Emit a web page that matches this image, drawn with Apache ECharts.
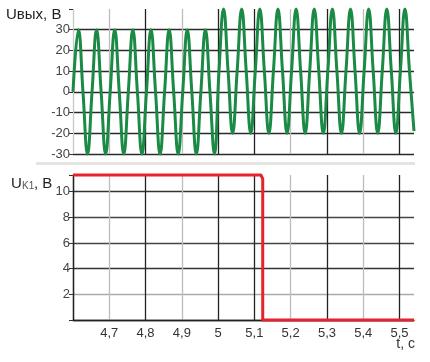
<!DOCTYPE html>
<html><head><meta charset="utf-8">
<script src="https://cdn.jsdelivr.net/npm/echarts@6/dist/echarts.min.js"></script>
<style>html,body{margin:0;padding:0;background:#fff}#c{width:430px;height:362px}</style>
</head><body><div id="c"></div>
<script>
// Output voltage U_out (V) vs time (s): sampled at peaks, troughs and mid points
var tOut = [4.600,4.615,4.6275,4.640,4.6525,4.665,4.6775,4.690,4.7025,4.715,4.7275,4.740,
  4.7525,4.765,4.7775,4.790,4.8025,4.815,4.8275,4.840,4.8525,4.865,4.8775,4.890,
  4.9025,4.915,4.9275,4.940,4.9525,4.965,4.9775,4.990,
  5.0025,5.015,5.0275,5.040,5.0525,5.065,5.0775,5.090,5.1025,5.115,5.1275,5.140,
  5.1525,5.165,5.1775,5.190,5.2025,5.215,5.2275,5.240,5.2525,5.265,5.2775,5.290,
  5.3025,5.315,5.3275,5.340,5.3525,5.365,5.3775,5.390,5.4025,5.415,5.4275,5.440,
  5.4525,5.465,5.4775,5.490,5.5025,5.515,5.5275,5.540];
var uOut = [0,30,0,-30,0,30,0,-30,0,30,0,-30,
  0,30,0,-30,0,30,0,-30,0,30,0,-30,
  0,30,0,-30,0,30,0,-30,
  10,40,10,-20,10,40,10,-20,10,40,10,-20,
  10,40,10,-20,10,40,10,-20,10,40,10,-20,
  10,40,10,-20,10,40,10,-20,10,40,10,-20,
  10,40,10,-20,10,40,10,-19];
// Control voltage U_K1 (V)
var tK1 = [4.600,5.118,5.123,5.123,5.540];
var uK1 = [11.3,11.3,11.0,0,0];
var yTicksTop = [-30,-20,-10,0,10,20,30];
var yTicksBottom = [2,4,6,8,10];

function pairs(a,b){return a.map(function(v,i){return [v,b[i]];});}
function xFmt(v){var r=Math.round(v*10)/10; if(r<4.65||r>5.52) return ''; return String(r).replace('.',',');}
var vColsTop = ['#c8c8c8','#bdbdbd','#222','#bdbdbd','#222','#222','#bdbdbd','#222','#bdbdbd','#222'];
var vColsBot = ['#222','#bdbdbd','#222','#bdbdbd','#222','#222','#bdbdbd','#222','#bdbdbd','#222'];
var font = 'Liberation Sans';
var chart = echarts.init(document.getElementById('c'), null, {renderer:'canvas'});
chart.setOption({
  animation:false,
  backgroundColor:'#fff',
  grid:[{left:73,right:16,top:9,bottom:208},{left:73,right:16,top:175,bottom:42}],
  xAxis:[
    {gridIndex:0,type:'value',min:4.6,max:5.54,interval:0.1,
     axisLine:{show:false},axisTick:{show:false},axisLabel:{show:false},
     splitLine:{show:true,showMaxLine:false,lineStyle:{color:vColsTop,width:1.3}}},
    {gridIndex:1,type:'value',min:4.6,max:5.54,interval:0.1,
     axisLine:{show:true,lineStyle:{color:'#222',width:1.3}},axisTick:{show:false},
     axisLabel:{formatter:xFmt,color:'#333',fontFamily:font,fontSize:13,margin:7,showMaxLabel:false},
     splitLine:{show:true,showMaxLine:false,lineStyle:{color:vColsBot,width:1.3}}}
  ],
  yAxis:[
    {gridIndex:0,type:'value',min:-30,max:40,interval:10,
     axisLine:{show:false},axisTick:{show:true,length:4,lineStyle:{color:'#333'}},
     axisLabel:{formatter:function(v){return yTicksTop.indexOf(v)>=0?String(v):'';},color:'#444',fontFamily:font,fontSize:13,margin:3},
     splitLine:{show:true,showMaxLine:false,lineStyle:{color:'#2a2a2a',width:1.3}}},
    {gridIndex:1,type:'value',min:0,max:11.3,interval:2,
     axisLine:{show:true,lineStyle:{color:'#222',width:1.3}},axisTick:{show:true,length:4,lineStyle:{color:'#333'}},
     axisLabel:{formatter:function(v){return yTicksBottom.indexOf(v)>=0?String(v):'';},color:'#444',fontFamily:font,fontSize:13,margin:3},
     splitLine:{show:true,showMaxLine:false,lineStyle:{color:['#222','#aaa','#333','#444','#444','#333'],width:1.3}}}
  ],
  series:[
    {type:'line',xAxisIndex:0,yAxisIndex:0,data:pairs(tOut,uOut),smooth:0.45,symbol:'none',clip:false,
     lineStyle:{color:'#1a8a45',width:3}},
    {type:'line',xAxisIndex:1,yAxisIndex:1,data:pairs(tK1,uK1),symbol:'none',clip:false,
     lineStyle:{color:'#e8222a',width:3}}
  ],
  graphic:[
    {type:'rect',shape:{x:36,y:162,width:379,height:3},style:{fill:'#e4e4e4'},silent:true},
    {type:'text',left:6,top:7,style:{text:'Uвых, В',font:'15px "Liberation Sans"',fill:'#222'}},
    {type:'text',left:11,top:176,style:{text:'U',font:'15px "Liberation Sans"',fill:'#222'}},
    {type:'text',left:22,top:181,style:{text:'K1',font:'10px "Liberation Sans"',fill:'#555'}},
    {type:'text',left:34,top:176,style:{text:', B',font:'15px "Liberation Sans"',fill:'#222'}},
    {type:'text',right:15,top:337,style:{text:'t, c',font:'14px "Liberation Sans"',fill:'#333'}}
  ]
});
</script></body></html>
